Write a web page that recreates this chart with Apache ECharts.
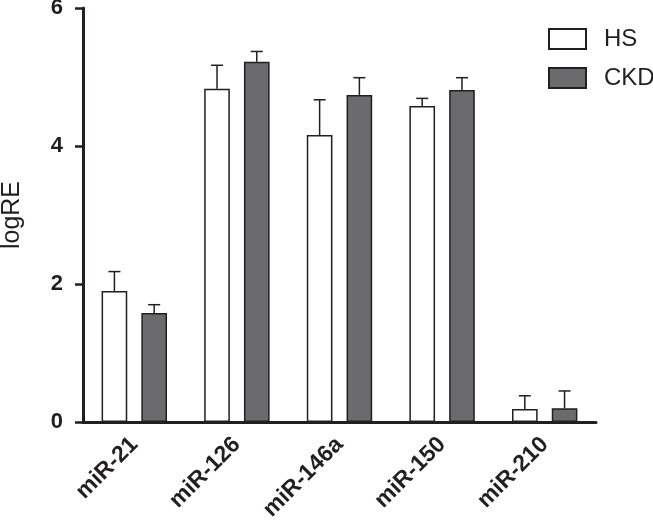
<!DOCTYPE html>
<html><head><meta charset="utf-8">
<script src="https://cdn.jsdelivr.net/npm/echarts@6/dist/echarts.min.js"></script>
<style>html,body{margin:0;padding:0;background:#fff}#c{width:653px;height:524px}</style>
</head><body><div id="c"></div>
<script>
const categories = ['miR-21','miR-126','miR-146a','miR-150','miR-210'];
const hsMean = [1.90, 4.83, 4.16, 4.58, 0.19];
const hsErr  = [0.28, 0.34, 0.51, 0.11, 0.19];
const ckdMean = [1.58, 5.22, 4.74, 4.81, 0.20];
const ckdErr  = [0.12, 0.15, 0.25, 0.18, 0.25];
const yTicks = [0, 2, 4, 6];

const BAR_W = 0.25, BAR_GAP = 0.55;
const ink = '#231f20';
const font = 'Liberation Sans, Arial, Helvetica, sans-serif';

function errSeries(name, mean, err, side) {
  return {
    type: 'custom', name: name + ' err', z: 5, silent: true,
    data: mean.map((m, i) => [i, m, err[i]]),
    renderItem: function (params, api) {
      const i = api.value(0), m = api.value(1), e = api.value(2);
      const band = api.size([1, 0])[0];
      const off = side * band * (BAR_W + BAR_W * BAR_GAP) / 2;
      const p0 = api.coord([i, m]);
      const p1 = api.coord([i, m + e]);
      const x = p0[0] + off;
      const cap = 6;
      const style = { stroke: ink, lineWidth: 1.5 };
      return { type: 'group', children: [
        { type: 'line', shape: { x1: x, y1: p0[1], x2: x, y2: p1[1] }, style: style },
        { type: 'line', shape: { x1: x - cap, y1: p1[1], x2: x + cap, y2: p1[1] }, style: style }
      ]};
    }
  };
}

const chart = echarts.init(document.getElementById('c'), null, { renderer: 'canvas' });
chart.setOption({
  animation: false,
  backgroundColor: '#fff',
  grid: { left: 83, right: 57, top: 8, bottom: 102, containLabel: false, outerBoundsMode: 'none' },
  legend: {
    orient: 'vertical', left: 548, top: 27, padding: 0, itemWidth: 37, itemHeight: 20, itemGap: 15,
    data: ['HS', 'CKD'], icon: 'rect',
    textStyle: { fontSize: 24, color: ink, fontFamily: font, padding: [0, 0, 0, 13] }
  },
  xAxis: {
    type: 'category', data: categories,
    axisLine: { lineStyle: { color: ink, width: 3 } },
    axisTick: { show: false },
    axisLabel: { rotate: 45, fontSize: 23, fontWeight: 'bold', color: ink, fontFamily: font, margin: 19, interval: 0 }
  },
  yAxis: {
    type: 'value', min: yTicks[0], max: yTicks[yTicks.length - 1], interval: 2,
    name: 'logRE', nameLocation: 'middle', nameRotate: 90, nameGap: 58,
    nameTextStyle: { fontSize: 25, color: ink, fontFamily: font },
    axisLine: { show: true, lineStyle: { color: ink, width: 3 } },
    axisTick: { show: true, length: 8, lineStyle: { color: ink, width: 2.5 } },
    splitLine: { show: false },
    axisLabel: { fontSize: 22, fontWeight: 'bold', color: ink, fontFamily: font, margin: 20 }
  },
  series: [
    { name: 'HS', type: 'bar', data: hsMean, barWidth: (BAR_W * 100) + '%', barGap: (BAR_GAP * 100) + '%',
      itemStyle: { color: '#ffffff', borderColor: ink, borderWidth: 1.5 } },
    { name: 'CKD', type: 'bar', data: ckdMean, barWidth: (BAR_W * 100) + '%', barGap: (BAR_GAP * 100) + '%',
      itemStyle: { color: '#6b6b6d', borderColor: ink, borderWidth: 1.5 } },
    errSeries('HS', hsMean, hsErr, -1),
    errSeries('CKD', ckdMean, ckdErr, 1)
  ]
});
</script></body></html>
